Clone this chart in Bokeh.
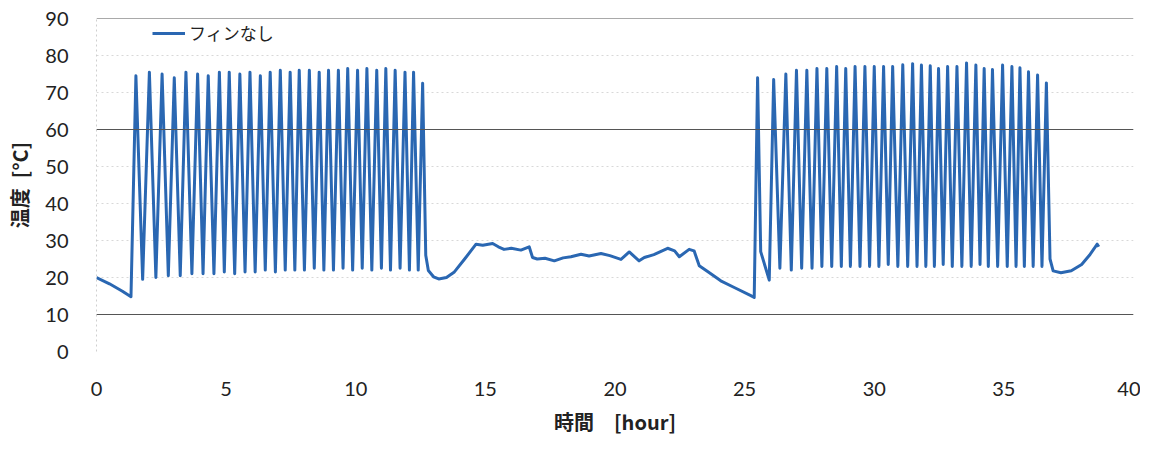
from bokeh.plotting import figure
from bokeh.models import Span, FixedTicker, Legend, LegendItem, ColumnDataSource
from bokeh.embed import file_html
from bokeh.resources import INLINE

# ---- data ----
x_ticks = [0, 5, 10, 15, 20, 25, 30, 35, 40]
y_ticks = [0, 10, 20, 30, 40, 50, 60, 70, 80, 90]
series_name = "フィンなし"

pre_t = [0.0, 0.5, 1.0, 1.33]
pre_v = [20.0, 18.3, 16.3, 14.8]

b1_peak_t = [1.52, 2.04, 2.53, 3.00, 3.45, 3.90, 4.31, 4.74, 5.12, 5.53, 5.92, 6.32, 6.70, 7.09, 7.47,
             7.82, 8.21, 8.59, 8.95, 9.33, 9.69, 10.07, 10.43, 10.81, 11.16, 11.52, 11.90, 12.23, 12.58]
b1_peak_v = [74.5, 75.5, 75.0, 74.0, 75.5, 75.0, 74.5, 75.5, 75.5, 75.0, 75.5, 74.5, 75.5, 76.0, 75.5,
             76.0, 76.0, 75.5, 76.0, 76.0, 76.5, 76.0, 76.5, 76.0, 76.5, 76.0, 75.5, 75.5, 72.5]
b1_trough_t = [1.78, 2.29, 2.77, 3.23, 3.68, 4.11, 4.53, 4.93, 5.33, 5.73, 6.12, 6.51, 6.90, 7.28,
               7.65, 8.02, 8.40, 8.77, 9.14, 9.51, 9.88, 10.25, 10.62, 10.99, 11.34, 11.71, 12.07, 12.41]
b1_trough_v = [19.5, 20.0, 20.5, 20.5, 21.0, 21.0, 21.0, 21.5, 21.0, 21.5, 21.5, 22.0, 21.5, 22.0,
               22.0, 22.0, 22.5, 22.0, 22.0, 22.5, 22.0, 22.5, 22.0, 22.5, 22.0, 22.5, 22.0, 22.0]

gap_t = [12.70, 12.80, 13.00, 13.20, 13.50, 13.79, 14.20, 14.64, 14.90, 15.28, 15.50, 15.72, 16.00,
         16.37, 16.69, 16.82, 17.00, 17.30, 17.66, 18.00, 18.30, 18.69, 19.00, 19.46, 19.80, 20.23,
         20.55, 20.93, 21.13, 21.50, 22.03, 22.30, 22.48, 22.86, 23.05, 23.25, 23.60, 24.08, 24.60,
         25.24, 25.37, 25.50, 25.62]
gap_v = [26.0, 21.9, 20.2, 19.6, 20.0, 21.4, 25.0, 29.0, 28.7, 29.2, 28.3, 27.6, 27.9,
         27.4, 28.3, 25.4, 25.0, 25.2, 24.5, 25.3, 25.6, 26.3, 25.8, 26.5, 25.9, 24.9,
         26.9, 24.5, 25.4, 26.2, 27.9, 27.2, 25.6, 27.6, 27.2, 23.2, 21.5, 19.1, 17.3,
         15.1, 14.6, 74.0, 27.0]

b2_trough_t = [25.95, 26.36, 26.80, 27.20, 27.60, 27.98, 28.36, 28.73, 29.08, 29.45, 29.82, 30.18,
               30.54, 30.91, 31.29, 31.65, 31.99, 32.32, 32.66, 33.01, 33.38, 33.74, 34.08, 34.40,
               34.76, 35.13, 35.47, 35.79, 36.13, 36.47]
b2_trough_v = [19.3, 22.5, 22.0, 22.5, 22.5, 23.0, 23.0, 23.0, 23.0, 23.0, 23.0, 23.0,
               23.5, 23.0, 23.0, 23.0, 23.0, 23.0, 23.5, 23.0, 23.0, 23.0, 23.5, 23.0,
               23.0, 23.0, 23.0, 23.0, 23.0, 23.0]
b2_peak_t = [26.12, 26.59, 27.00, 27.40, 27.79, 28.17, 28.55, 28.90, 29.26, 29.64, 30.00, 30.36,
             30.71, 31.10, 31.48, 31.82, 32.16, 32.48, 32.83, 33.19, 33.56, 33.92, 34.24, 34.56,
             34.95, 35.31, 35.62, 35.95, 36.30, 36.64]
b2_peak_v = [73.5, 75.0, 76.0, 76.0, 76.5, 76.5, 77.0, 76.5, 77.0, 77.0, 77.0, 77.0,
             77.0, 77.5, 77.8, 77.4, 77.2, 76.5, 77.0, 77.0, 78.0, 77.4, 76.5, 76.2,
             77.4, 77.0, 76.7, 75.6, 74.7, 72.6]

post_t = [36.78, 36.90, 37.20, 37.60, 38.00, 38.30, 38.60, 38.66]
post_v = [25.0, 21.8, 21.3, 21.8, 23.5, 26.0, 29.0, 28.3]


def interleave(a_t, a_v, b_t, b_v):
    t, v = [], []
    for i in range(max(len(a_t), len(b_t))):
        if i < len(a_t):
            t.append(a_t[i]); v.append(a_v[i])
        if i < len(b_t):
            t.append(b_t[i]); v.append(b_v[i])
    return t, v


t1, v1 = interleave(b1_peak_t, b1_peak_v, b1_trough_t, b1_trough_v)
t2, v2 = interleave(b2_trough_t, b2_trough_v, b2_peak_t, b2_peak_v)
time = pre_t + t1 + gap_t + t2 + post_t
temp = pre_v + v1 + gap_v + v2 + post_v
src = ColumnDataSource(dict(t=time, v=temp))

# ---- figure ----
p = figure(width=1140, height=438, x_range=(0, 40), y_range=(0, 90),
           output_backend="svg", toolbar_location=None,
           min_border_left=96, min_border_right=7, min_border_top=18, min_border_bottom=84)
p.outline_line_color = None
p.background_fill_color = "white"
p.border_fill_color = "white"

p.xgrid.grid_line_color = None
p.ygrid.ticker = FixedTicker(ticks=y_ticks)
p.ygrid.grid_line_color = "#d8d8d8"
p.ygrid.grid_line_dash = "2 3"
p.ygrid.grid_line_width = 1

for yv in [10, 60, 90]:
    p.add_layout(Span(location=yv, dimension="width", line_color="#555555", line_width=1))

line_color = "#2a67b2"
r = p.line("t", "v", source=src, line_color=line_color, line_width=3, line_join="round")

# axes
for ax in (p.xaxis[0], p.yaxis[0]):
    ax.major_tick_line_color = None
    ax.minor_tick_line_color = None
    ax.major_label_text_font = "Lato"
    ax.major_label_text_font_size = "20px"
    ax.major_label_text_color = "#222222"
    ax.axis_label_text_font = "Noto Sans CJK JP"
    ax.axis_label_text_font_style = "bold"
    ax.axis_label_text_font_size = "20px"
    ax.axis_label_text_color = "#222222"

p.xaxis.ticker = FixedTicker(ticks=x_ticks)
p.yaxis.ticker = FixedTicker(ticks=y_ticks)
p.xaxis.axis_line_color = None
p.yaxis.axis_line_color = "#cfcfcf"
p.yaxis.axis_line_dash = "2 3"
p.xaxis.major_label_standoff = 24
p.yaxis.major_label_standoff = 22
p.xaxis.axis_label = "時間\u3000[hour]"
p.yaxis.axis_label = "温度\u2002[°C]"
p.xaxis.axis_label_standoff = 8
p.yaxis.axis_label_standoff = 8

legend = Legend(items=[LegendItem(label=series_name, renderers=[r])],
                location=(56, 306), orientation="horizontal",
                background_fill_alpha=0, border_line_color=None,
                padding=0, margin=0, glyph_width=33, label_standoff=4,
                label_text_font="Noto Sans CJK JP", label_text_font_size="17px",
                label_text_color="#222222")
p.add_layout(legend)

open("out.html", "w").write(file_html(p, INLINE))
